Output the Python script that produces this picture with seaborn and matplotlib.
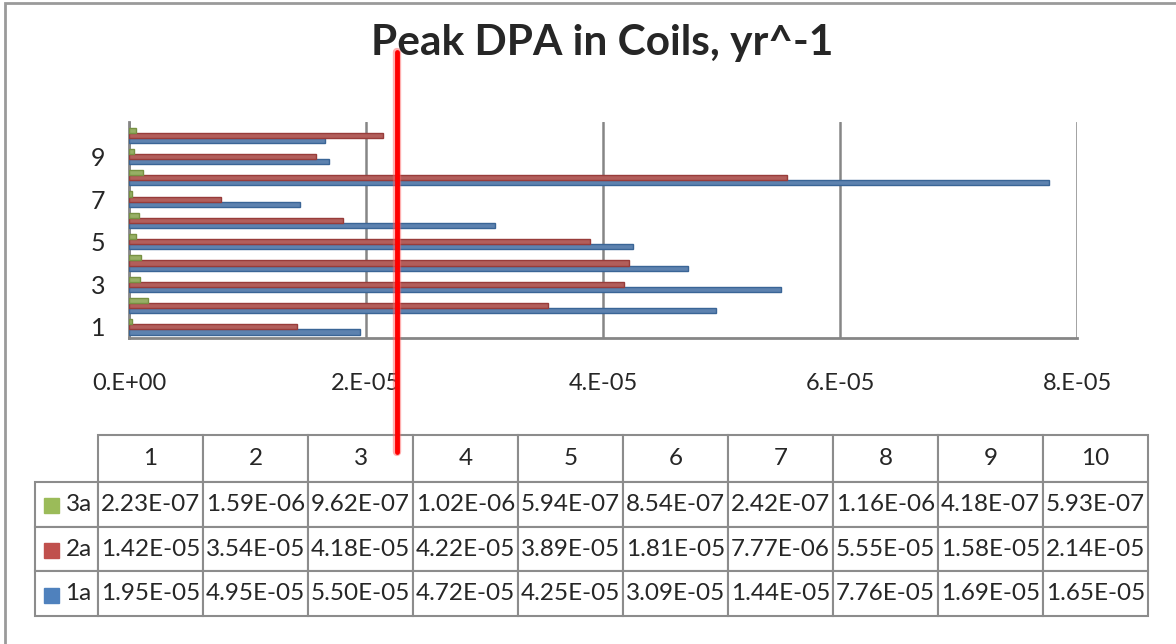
import pandas as pd
import matplotlib
matplotlib.use('Agg')
import matplotlib.pyplot as plt
import seaborn as sns
from matplotlib.ticker import MultipleLocator, FixedLocator
from matplotlib.table import Table
from matplotlib.patches import Rectangle

# values from the data table under the chart
coils = list(range(1, 11))
dpa_1a = [1.95e-05, 4.95e-05, 5.50e-05, 4.72e-05, 4.25e-05, 3.09e-05, 1.44e-05, 7.76e-05, 1.69e-05, 1.65e-05]
dpa_2a = [1.42e-05, 3.54e-05, 4.18e-05, 4.22e-05, 3.89e-05, 1.81e-05, 7.77e-06, 5.55e-05, 1.58e-05, 2.14e-05]
dpa_3a = [2.23e-07, 1.59e-06, 9.62e-07, 1.02e-06, 5.94e-07, 8.54e-07, 2.42e-07, 1.16e-06, 4.18e-07, 5.93e-07]
limit_line = 2.26e-05
x_ticks = [0, 2e-05, 4e-05, 6e-05, 8e-05]

series = ['1a', '2a', '3a']
colors = {'1a': '#4F81BD', '2a': '#C0504D', '3a': '#9BBB59'}
edges = {'1a': '#3A6596', '2a': '#983C3A', '3a': '#779142'}
grey = '#868686'

df = pd.DataFrame({
    'Coil': coils * 3,
    'DPA': dpa_1a + dpa_2a + dpa_3a,
    'Series': [s for s in series for _ in coils],
})

sns.set_style('white')
plt.rcParams['font.family'] = ['Lato', 'DejaVu Sans']

W, H = 1176, 644
fig = plt.figure(figsize=(W / 100, H / 100), dpi=100)

# chart-area border (top and left visible in the crop)
fig.patches.append(Rectangle((5 / W, -0.05), 1.1, 1 - 3 / H + 0.05, transform=fig.transFigure,
                             fill=False, ec='#9a9a9a', lw=2))

ax = fig.add_axes([129 / W, 1 - 338 / H, (1077 - 129) / W, (338 - 122) / H])
ax.set_zorder(3)
sns.barplot(data=df, x='DPA', y='Coil', hue='Series', hue_order=series, orient='h',
            palette=colors, width=0.72, legend=False, ax=ax, zorder=3)
for cont, s in zip(ax.containers, series):
    for bar in cont:
        bar.set_edgecolor(edges[s])
        bar.set_linewidth(1)

ax.set_xlim(0, 8e-05)
ax.set_ylim(-0.52, 9.62)
ax.xaxis.set_major_locator(FixedLocator(x_ticks))
ax.xaxis.set_minor_locator(MultipleLocator(4e-06))
ax.set_xticklabels(['%#.0E' % v for v in x_ticks])
ax.set_yticks(range(0, 10, 2))
ax.set_yticklabels([str(c) for c in coils[::2]])
ax.set_xlabel('')
ax.set_ylabel('')
ax.grid(axis='x', which='major', color=grey, lw=1.8, zorder=0)
ax.tick_params(axis='x', which='both', direction='in', length=5, width=1.2, color=grey,
               pad=25, labelsize=17)
ax.tick_params(axis='y', length=0, pad=17, labelsize=18)
for side in ['top', 'right']:
    ax.spines[side].set_visible(False)
for side in ['left', 'bottom']:
    ax.spines[side].set_color(grey)
    ax.spines[side].set_linewidth(2)

# red marker line
y_lo, y_hi = (338 - 452) / 216, (338 - 52) / 216
ax.axvline(limit_line, ymin=y_lo, ymax=y_hi, clip_on=False,
           color='#FF6060', lw=6, alpha=0.5, zorder=9)
ax.axvline(limit_line, ymin=y_lo, ymax=y_hi, clip_on=False,
           color='#FF0000', lw=3.5, zorder=10)

fig.text(602 / W, 1 - 43 / H, 'Peak DPA in Coils, yr^-1', ha='center', va='center',
         fontsize=30.5, fontweight='bold')

# data table
tax = fig.add_axes([35 / W, 1 - 616 / H, (1148 - 35) / W, (616 - 435) / H])
tax.set_zorder(1)
tax.axis('off')
tbl = Table(tax, bbox=[0, 0, 1, 1])
label_w, col_w, head_h, row_h = 63, 105, 48, 45
for j, c in enumerate(coils):
    tbl.add_cell(0, j + 1, col_w, head_h, text=str(c), loc='center')
table_rows = [('3a', dpa_3a), ('2a', dpa_2a), ('1a', dpa_1a)]
for i, (s, vals) in enumerate(table_rows):
    tbl.add_cell(i + 1, 0, label_w, row_h, text=s, loc='right')
    for j, v in enumerate(vals):
        tbl.add_cell(i + 1, j + 1, col_w, row_h, text='%.2E' % v, loc='center')
for cell in tbl.get_celld().values():
    cell.set_edgecolor('#8c8c8c')
    cell.set_linewidth(1.5)
tbl.auto_set_font_size(False)
tbl.set_fontsize(17.5)
tax.add_table(tbl)

tot_w, tot_h = 1148 - 35, 616 - 435
for i, (s, _) in enumerate(table_rows):
    yc = 616 - (483 + row_h * i + row_h / 2)
    tax.add_patch(Rectangle(((44 - 35) / tot_w, (yc - 7.5) / tot_h), 15 / tot_w, 15 / tot_h,
                            transform=tax.transAxes, color=colors[s], clip_on=False, zorder=5))

fig.savefig('out.png', dpi=100)
